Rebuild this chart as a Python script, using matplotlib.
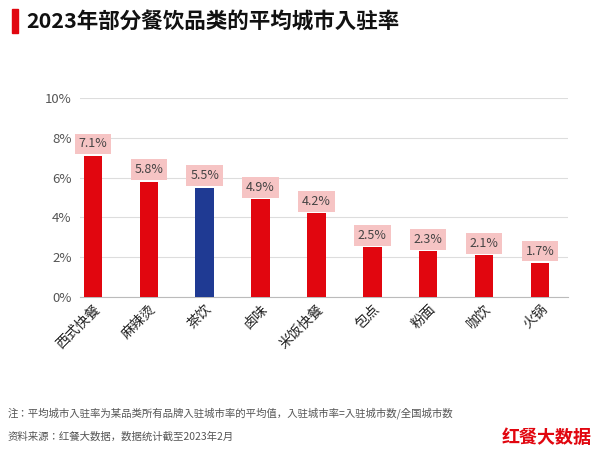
import matplotlib
matplotlib.use("Agg")
import matplotlib.pyplot as plt
from matplotlib.patches import Rectangle
from matplotlib import font_manager

names = {f.name for f in font_manager.fontManager.ttflist}
cjk = [n for n in ["Noto Sans CJK SC", "Noto Sans CJK JP", "Noto Sans CJK TC", "Noto Sans CJK KR"] if n in names]
plt.rcParams['font.sans-serif'] = cjk + ["DejaVu Sans"]
plt.rcParams['font.family'] = 'sans-serif'

categories = ["西式快餐", "麻辣烫", "茶饮", "卤味", "米饭快餐", "包点", "粉面", "咖饮", "火锅"]
values = [7.1, 5.8, 5.5, 4.9, 4.2, 2.5, 2.3, 2.1, 1.7]
yticks = [0, 2, 4, 6, 8, 10]

fig = plt.figure(figsize=(6, 4.61), dpi=100)
ax = fig.add_axes([80/600, 1-297/461, 488/600, 199/461])
colors = ["#1f3a93" if c == "茶饮" else "#e1060f" for c in categories]
x = list(range(len(categories)))
ax.bar(x, values, width=0.33, color=colors, zorder=3)
for xi, v in zip(x, values):
    ax.text(xi, v + 0.6, f"{v}%", ha="center", va="center", fontsize=9, color="#444",
            bbox=dict(boxstyle="square,pad=0.3", fc="#f6c4c4", ec="none"), zorder=4)
ax.set_xlim(-0.23, 8.5)
ax.set_ylim(0, 10)
ax.set_yticks(yticks)
ax.set_yticklabels([f"{t}%" for t in yticks], fontsize=9.5, color="#555")
ax.tick_params(axis="y", pad=6)
ax.yaxis.grid(True, color="#dddddd", lw=0.8, zorder=0)
ax.set_xticks(x)
ax.set_xticklabels(categories, rotation=45, ha="right", rotation_mode="anchor", fontsize=10, color="#222")
for s in ["top", "right", "left"]:
    ax.spines[s].set_visible(False)
ax.spines["bottom"].set_color("#bbbbbb")
ax.tick_params(length=0)

fig.patches.append(Rectangle((12/600, 1-33/461), 6/600, 24/461, transform=fig.transFigure, color="#e1060f"))
fig.text(26/600, 1-21/461, "2023年部分餐饮品类的平均城市入驻率", fontsize=15.5, fontweight="bold", va="center", color="#111")
fig.text(8/600, 1-413/461, "注：平均城市入驻率为某品类所有品牌入驻城市率的平均值，入驻城市率=入驻城市数/全国城市数",
         fontsize=7.5, color="#555", va="center")
fig.text(8/600, 1-437/461, "资料来源：红餐大数据，数据统计截至2023年2月", fontsize=7.5, color="#555", va="center")
fig.text(592/600, 1-437/461, "红餐大数据", fontsize=13, fontweight="bold", color="#e1060f", ha="right", va="center", style="italic")
fig.savefig("out.png", dpi=100)
